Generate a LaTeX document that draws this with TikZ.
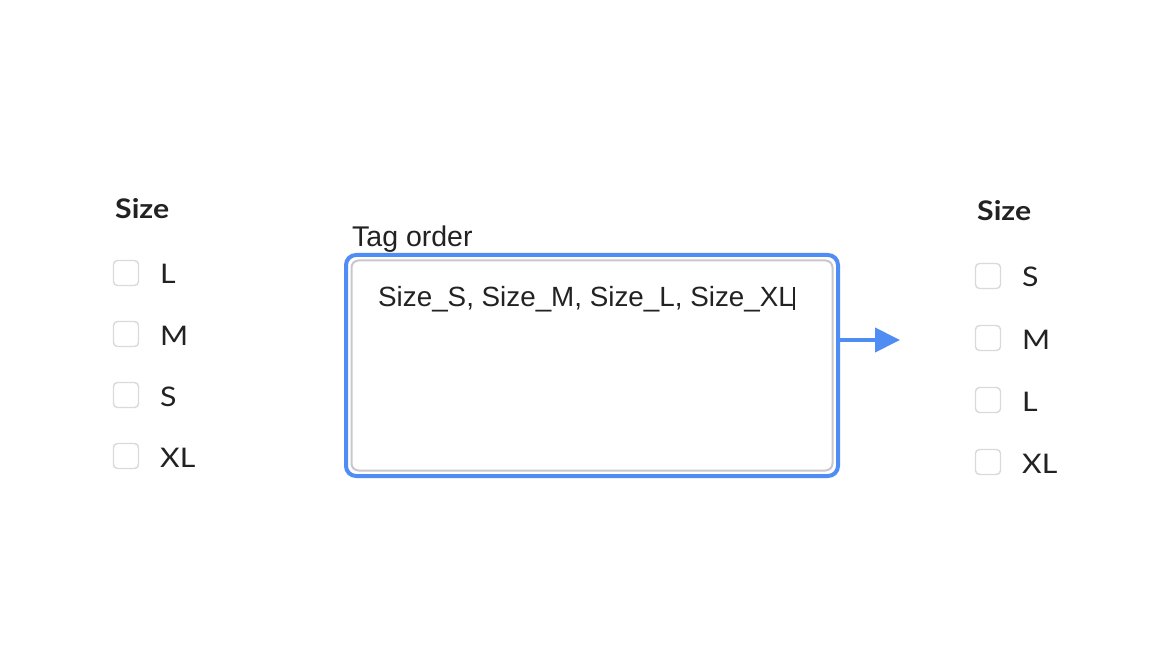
\documentclass[tikz,border=0pt]{standalone}
\usepackage{fontspec}
\setmainfont{Lato}[FakeStretch=1.12]
\newfontfamily\boxfont{Liberation Sans}
\usetikzlibrary{arrows.meta}
\definecolor{uiblue}{HTML}{4F8CF3}
\definecolor{cbgray}{HTML}{DADADA}
\definecolor{fieldgray}{HTML}{C8C8CC}
\definecolor{txt}{HTML}{222222}
\tikzset{
  chk/.style={draw=cbgray, line width=1.4pt, rounded corners=4pt, minimum size=25pt, inner sep=0pt},
  opt/.style={anchor=base west, inner sep=0pt, text=txt, font=\fontsize{27}{30}\selectfont},
  head/.style={anchor=base west, inner sep=0pt, text=txt, font=\bfseries\fontsize{27}{30}\selectfont},
  lbl/.style={anchor=base west, inner sep=0pt, text=txt, font=\boxfont\fontsize{28.5}{30}\selectfont},
  arr/.style={draw=uiblue, line width=4pt, -{Triangle[length=25pt,width=24pt]}}
}
\begin{document}
\begin{tikzpicture}[x=1pt,y=-1pt]
\useasboundingbox[fill=white] (0,0) rectangle (1173,668);
% left list
\node[head] (lh) at (115,218.5) {Size};
\node[chk] (lc1) at (126,273) {};
\node[chk] (lc2) at (126,334) {};
\node[chk] (lc3) at (126,395) {};
\node[chk] (lc4) at (126,456) {};
\node[opt] (lo1) at (160,284) {L};
\node[opt] (lo2) at (160,345) {M};
\node[opt] (lo3) at (160,406) {S};
\node[opt] (lo4) at (160,467) {XL};
% text area
\node[lbl] (tl) at (352,246.5) {Tag order};
\node[draw=uiblue, line width=4pt, rounded corners=10pt, minimum width=492pt, minimum height=221pt, inner sep=0pt] (tb) at (592,365.5) {};
\node[draw=fieldgray, line width=2pt, rounded corners=7pt, minimum width=481pt, minimum height=210pt, inner sep=0pt] (tf) at (592,365.5) {};
\node[lbl, font=\boxfont\fontsize{27.8}{30}\selectfont] (tv) at (378,306.5) {Size\_S, Size\_M, Size\_L, Size\_XL};
\draw[txt, line width=1.3pt] (794,287) coordinate (c1) -- (794,310) coordinate (c2);
% arrow
\coordinate (ae) at (900,340);
\draw[arr] ([yshift=25.5pt]tb.east) -- (ae);
% right list
\node[head] (rh) at (977,220.5) {Size};
\node[chk] (rc1) at (988,276) {};
\node[chk] (rc2) at (988,338) {};
\node[chk] (rc3) at (988,400) {};
\node[chk] (rc4) at (988,462) {};
\node[opt] (ro1) at (1022,287) {S};
\node[opt] (ro2) at (1022,349) {M};
\node[opt] (ro3) at (1022,411) {L};
\node[opt] (ro4) at (1022,473) {XL};
\end{tikzpicture}
\end{document}
